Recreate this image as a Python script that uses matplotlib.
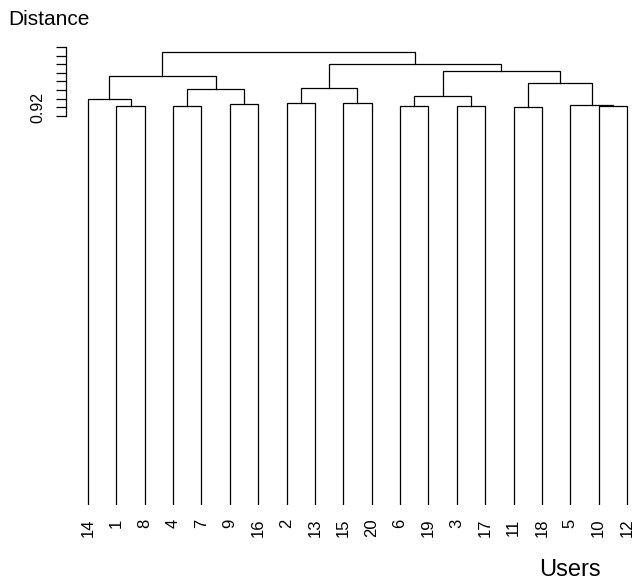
import matplotlib
matplotlib.use("Agg")
import matplotlib.pyplot as plt

plt.rcParams['font.family'] = ['Liberation Sans', 'DejaVu Sans']

# leaf order along the x axis
users = ['14', '1', '8', '4', '7', '9', '16', '2', '13', '15', '20',
         '6', '19', '3', '17', '11', '18', '5', '10', '12']

# merges, hclust style: children are user labels or earlier merges "mN"
merge_a = ['1', '14', '4', '9', 'm2', 'm1', '2', '15', 'm6', '6', '3', 'm9',
           '11', '10', '5', 'm12', 'm11', 'm8', 'm5']
merge_b = ['8', 'm0', '7', '16', 'm3', 'm4', '13', '20', 'm7', '19', '17', 'm10',
           '18', '12', 'm13', 'm14', 'm15', 'm16', 'm17']
heights = [0.9208, 0.9248, 0.9208, 0.9218, 0.9306, 0.9382, 0.9223, 0.9225, 0.9314,
           0.9207, 0.9206, 0.9262, 0.9198, 0.9207, 0.9214, 0.9341, 0.9413, 0.9454,
           0.9524]

leaf_base = 0.6873
y_ticks = [0.915, 0.92, 0.925, 0.93, 0.935, 0.94, 0.945, 0.95, 0.955]

fig = plt.figure(figsize=(6.44, 5.82), dpi=100)
ax = fig.add_axes([66.4 / 644, 77 / 582, (644 - 66.4) / 644, 465 / 582])

pos = {}
hgt = {}
for i, u in enumerate(users):
    pos[u] = i + 1
    hgt[u] = leaf_base

for k, (a, b) in enumerate(zip(merge_a, merge_b)):
    h = heights[k]
    xa, xb = pos[a], pos[b]
    ax.plot([xa, xa, xb, xb], [hgt[a], h, h, hgt[b]], color='black', lw=0.9,
            solid_joinstyle='miter')
    name = 'm%d' % k
    pos[name] = (xa + xb) / 2.0
    hgt[name] = h

ax.set_xlim(0.24, 1 + (644 - 88) / 28.37)
ax.set_ylim(leaf_base, leaf_base + (505 - 40) * 0.005 / 8.55)

for s in ['top', 'right', 'bottom']:
    ax.spines[s].set_visible(False)
ax.spines['left'].set_bounds(y_ticks[0], y_ticks[-1])
ax.spines['left'].set_linewidth(0.9)
ax.set_xticks([])
ax.set_yticks(y_ticks)
ax.set_yticklabels(['' if t != 0.92 else '0.92' for t in y_ticks],
                   rotation=90, va='center', fontsize=11.5)
ax.tick_params(axis='y', length=7, width=0.9, pad=8)

for u in users:
    ax.text(pos[u], leaf_base - 0.008, u, rotation=90, ha='center', va='top',
            fontsize=12)

fig.text(8 / 644, 1 - 25 / 582, 'Distance', fontsize=15, ha='left', va='baseline')
fig.text(539 / 644, 1 - 576 / 582, 'Users', fontsize=17, ha='left', va='baseline')

fig.savefig('out.png', dpi=100)
